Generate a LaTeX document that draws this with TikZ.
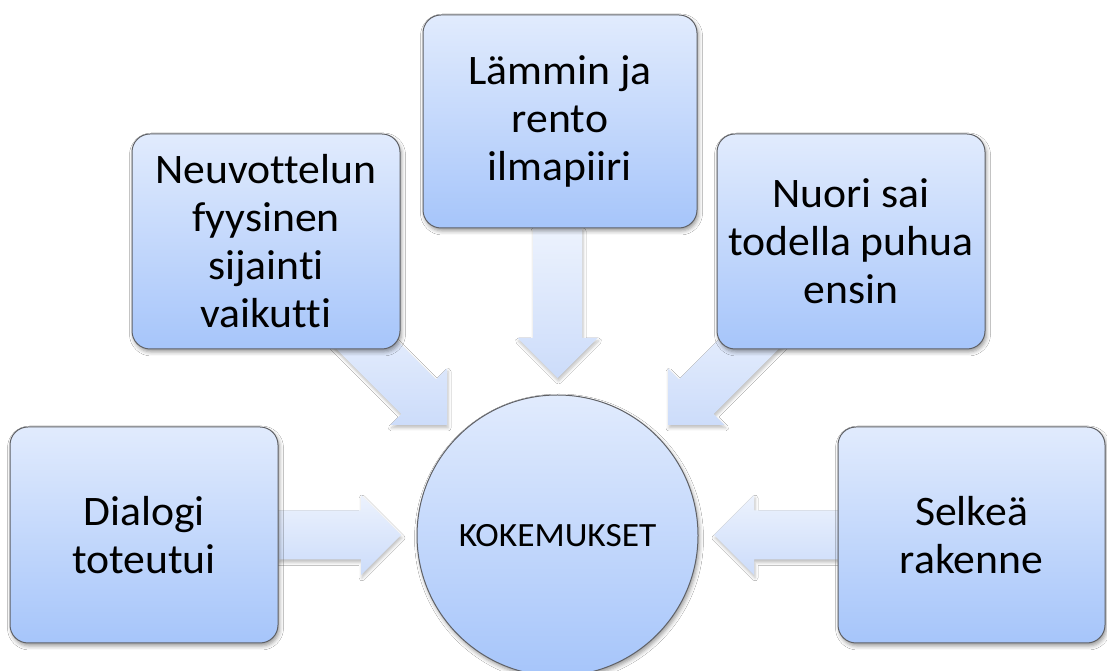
\documentclass[tikz,border=0pt]{standalone}
\usepackage{fontspec}
\setmainfont{Carlito}[Ligatures=NoCommon, FakeStretch=1.04]
\usetikzlibrary{shadows.blur}
\definecolor{boxtop}{RGB}{225,235,253}
\definecolor{boxbot}{RGB}{166,197,250}
\definecolor{arrtop}{RGB}{236,242,253}
\definecolor{arrbot}{RGB}{204,220,250}
\definecolor{edgecol}{RGB}{95,97,102}
\tikzset{
  boxstyle/.style={draw=edgecol, line width=1pt, rounded corners=18pt,
    top color=boxtop, bottom color=boxbot, align=center, inner sep=0pt,
    font=\fontsize{42}{48}\selectfont,
    blur shadow={shadow xshift=1.5pt, shadow yshift=-3pt, shadow blur radius=4pt, shadow opacity=40}},
  hubstyle/.style={draw=edgecol, line width=1pt, circle, minimum size=281pt,
    top color=boxtop, bottom color=boxbot, inner sep=0pt,
    font=\fontsize{34}{40}\selectfont,
    blur shadow={shadow xshift=1.5pt, shadow yshift=-3pt, shadow blur radius=4pt, shadow opacity=40}},
  arrowfill/.style={top color=arrtop, bottom color=arrbot,
    blur shadow={shadow xshift=1pt, shadow yshift=-3pt, shadow blur radius=3pt, shadow opacity=25}}
}
% block arrow: #1 tip coordinate, #2 direction angle, #3 total length
\newcommand\blockarr[3]{%
  \path[arrowfill]
    ([shift={(#1)},rotate=#2]0,0) --
    ([shift={(#1)},rotate=#2]-40,40) --
    ([shift={(#1)},rotate=#2]-40,24.5) --
    ([shift={(#1)},rotate=#2]-#3,24.5) --
    ([shift={(#1)},rotate=#2]-#3,-24.5) --
    ([shift={(#1)},rotate=#2]-40,-24.5) --
    ([shift={(#1)},rotate=#2]-40,-40) -- cycle;}
\begin{document}
\begin{tikzpicture}[x=1pt,y=1pt]
\useasboundingbox (0,0) rectangle (1107,671);
\fill[white] (0,0) rectangle (1107,671);

% arrow tips
\coordinate (tL) at (401,136);
\coordinate (tR) at (714,136);
\coordinate (tT) at (557.5,293);
\coordinate (tUL) at (447,246);
\coordinate (tUR) at (668,246);

% arrows (behind boxes)
\blockarr{tL}{0}{123}
\blockarr{tR}{180}{124}
\blockarr{tT}{-90}{150}
\blockarr{tUL}{-45}{150}
\blockarr{tUR}{-135}{150}

% boxes
\node[boxstyle, minimum width=268pt, minimum height=216pt] (dlg) at (144,136) {Dialogi\\toteutui};
\node[boxstyle, minimum width=267pt, minimum height=216pt] (sel) at (971.5,136) {Selkeä\\rakenne};
\node[boxstyle, minimum width=274pt, minimum height=213pt] (lam) at (560,549.5) {Lämmin ja\\rento\\ilmapiiri};
\node[boxstyle, minimum width=268pt, minimum height=215pt] (neu) at (266,429.5) {Neuvottelun\\fyysinen\\sijainti\\vaikutti};
\node[boxstyle, minimum width=268pt, minimum height=215pt] (nuo) at (851,429.5) {Nuori sai\\todella puhua\\ensin};

% hub
\node[hubstyle] (hub) at (557.5,135.5) {KOKEMUKSET};
\end{tikzpicture}
\end{document}
